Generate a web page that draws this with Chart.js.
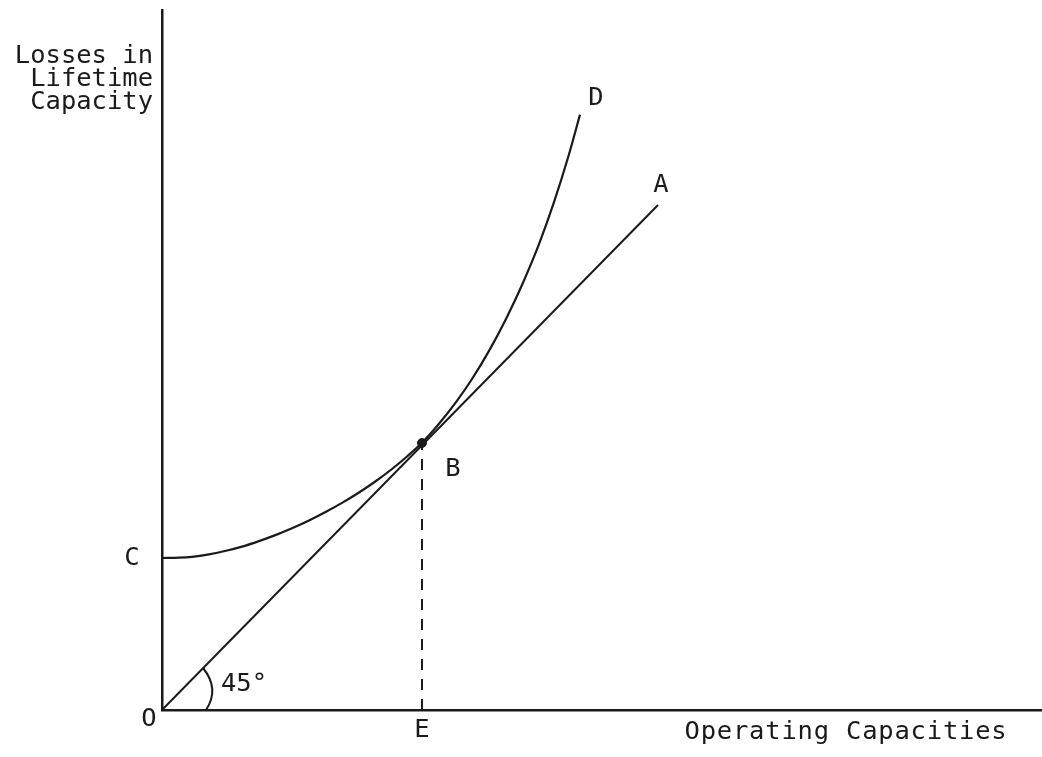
<!DOCTYPE html>
<html>
<head>
<meta charset="utf-8">
<script src="https://cdn.jsdelivr.net/npm/chart.js@4"></script>
<style>
html,body{margin:0;padding:0;background:#fff;}
#wrap{width:1042px;height:757px;position:relative;}
</style>
</head>
<body>
<div id="wrap"><canvas id="c" width="1042" height="757"></canvas></div>
<script>
// Curve C-B-D (operating capacity vs. losses in lifetime capacity), arbitrary units
const curveX = [0, 1.7, 3.0, 4.7, 6.4, 8.0, 9.7, 11.4, 13.0, 14.7, 16.4, 18.0, 19.7, 21.4, 23.0, 24.5, 26.0, 27.7, 29.4, 31.0, 32.7, 34.4, 36.0, 37.7, 39.2, 40.7, 41.8];
const curveY = [15.2, 15.23, 15.32, 15.57, 15.92, 16.34, 16.89, 17.51, 18.17, 18.95, 19.82, 20.71, 21.75, 22.9, 24.1, 25.35, 26.72, 28.62, 30.78, 33.1, 35.91, 39.11, 42.5, 46.58, 50.78, 55.58, 59.54];
// 45-degree line O-A
const lineX = [0, 49.6];
const lineY = [0, 50.5];
// Tangency point B and its projection E
const pointB = {x: 26.0, y: 26.7};
const pointE = {x: 26.0, y: 0};
// Axis ranges
const xRange = [0, 88];
const yRange = [0, 70];

const toPts = (xs, ys) => xs.map((x, i) => ({x, y: ys[i]}));
const ink = '#1a1a1a';
const FONT = '25.5px "DejaVu Sans Mono", "Liberation Mono", monospace';

const annot = {
  id: 'annot',
  afterDatasetsDraw(chart) {
    const {ctx, scales: {x, y}} = chart;
    const px = v => x.getPixelForValue(v), py = v => y.getPixelForValue(v);
    const ox = px(0), oy = py(0);
    ctx.save();
    ctx.fillStyle = ink;
    ctx.font = FONT;
    ctx.textBaseline = 'middle';
    // axis titles
    ctx.textAlign = 'right';
    ['Losses in', 'Lifetime', 'Capacity'].forEach((t, i) => ctx.fillText(t, ox - 9, 56 + i * 23));
    ctx.textAlign = 'center';
    ctx.letterSpacing = '0.8px';
    ctx.fillText('Operating Capacities', 846, 732);
    ctx.letterSpacing = '0px';
    // point labels
    ctx.fillText('O', ox - 13, oy + 9);
    ctx.fillText('C', ox - 30, py(curveY[0]));
    ctx.fillText('E', px(pointE.x), oy + 20);
    ctx.fillText('B', px(pointB.x) + 31, py(pointB.y) + 26);
    ctx.fillText('D', px(curveX[curveX.length - 1]) + 16, py(curveY[curveY.length - 1]) - 16);
    ctx.fillText('A', px(lineX[1]) + 3, py(lineY[1]) - 20);
    ctx.textAlign = 'left';
    ctx.fillText('45°', ox + 59, oy - 26);
    // angle arc
    ctx.strokeStyle = ink;
    ctx.lineWidth = 2;
    ctx.beginPath();
    ctx.moveTo(ox + 41, oy - 42);
    ctx.quadraticCurveTo(ox + 58, oy - 21, ox + 44, oy);
    ctx.stroke();
    ctx.restore();
  }
};

const noPad = s => { s.paddingLeft = 0; s.paddingRight = 0; s.paddingTop = 0; s.paddingBottom = 0; };

new Chart(document.getElementById('c'), {
  type: 'scatter',
  data: {
    datasets: [
      {data: toPts(curveX, curveY), showLine: true, borderColor: ink, borderWidth: 2.2,
       pointRadius: 0, cubicInterpolationMode: 'monotone'},
      {data: toPts(lineX, lineY), showLine: true, borderColor: ink, borderWidth: 2,
       pointRadius: 0},
      {data: [pointE, pointB], showLine: true, borderColor: ink, borderWidth: 2,
       borderDash: [11, 9], pointRadius: 0},
      {data: [pointB], showLine: false, pointRadius: 4.5, backgroundColor: ink, borderColor: ink}
    ]
  },
  options: {
    responsive: false,
    animation: false,
    events: [],
    layout: {autoPadding: false, padding: {left: 162, top: 10, bottom: 47, right: 0}},
    plugins: {legend: {display: false}, tooltip: {enabled: false}},
    scales: {
      x: {type: 'linear', min: xRange[0], max: xRange[1], afterFit: noPad,
          grid: {display: false, drawTicks: false},
          border: {display: true, color: ink, width: 2.5},
          ticks: {display: false}},
      y: {type: 'linear', min: yRange[0], max: yRange[1], afterFit: noPad,
          grid: {display: false, drawTicks: false},
          border: {display: true, color: ink, width: 2.5},
          ticks: {display: false}}
    }
  },
  plugins: [annot]
});
</script>
</body>
</html>
